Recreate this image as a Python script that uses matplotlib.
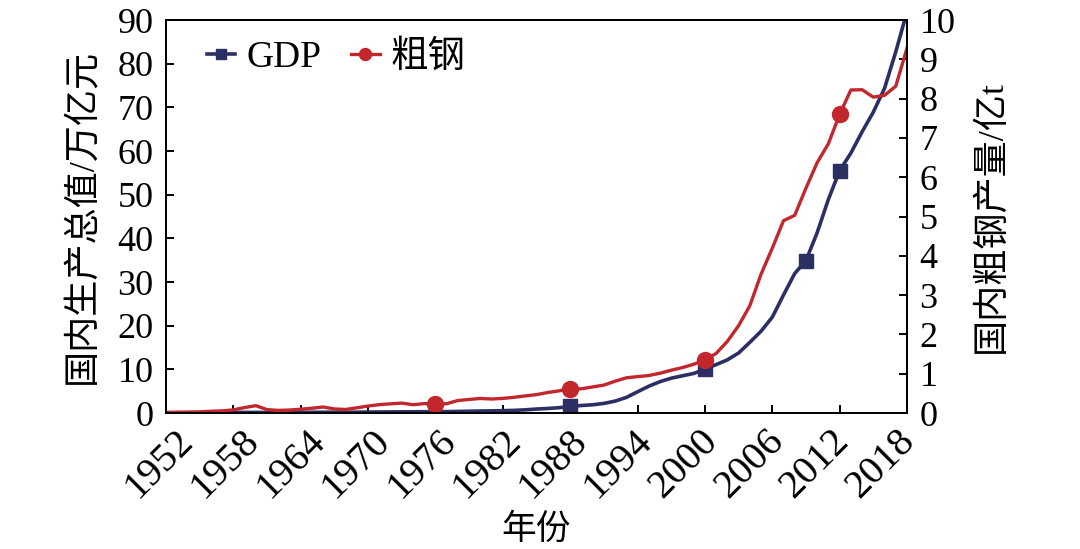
import numpy as np
import matplotlib
matplotlib.use("Agg")
import matplotlib.pyplot as plt
from matplotlib.transforms import ScaledTranslation

plt.rcParams['font.family'] = ['Liberation Serif', 'Noto Sans CJK SC']
plt.rcParams['axes.unicode_minus'] = False

# --- DATOS ---
years = list(range(1952, 2019))

# PIB (万亿元)
gdp = [0.068, 0.082, 0.086, 0.091, 0.103, 0.107, 0.131, 0.144, 0.146, 0.122,
       0.115, 0.123, 0.145, 0.172, 0.187, 0.177, 0.172, 0.194, 0.225, 0.243,
       0.252, 0.272, 0.279, 0.300, 0.294, 0.320, 0.368, 0.410, 0.459, 0.494,
       0.537, 0.602, 0.728, 0.910, 1.038, 1.218, 1.518, 1.718, 1.887, 2.201,
       2.720, 3.567, 4.864, 6.134, 7.181, 7.972, 8.520, 9.056, 10.03, 11.09,
       12.17, 13.74, 16.18, 18.73, 21.94, 27.02, 31.95, 34.91, 41.30, 48.93,
       55.5, 59.52, 64.40, 68.91, 74.36, 82.71, 91.9]

# Acero bruto (亿t)
steel = [0.014, 0.018, 0.022, 0.029, 0.045, 0.054, 0.080, 0.139, 0.187, 0.087,
         0.067, 0.076, 0.096, 0.122, 0.153, 0.103, 0.090, 0.133, 0.178, 0.213,
         0.234, 0.252, 0.211, 0.239, 0.230, 0.237, 0.318, 0.345, 0.371, 0.356,
         0.372, 0.400, 0.435, 0.468, 0.522, 0.563, 0.620, 0.616, 0.664, 0.710,
         0.809, 0.896, 0.926, 0.954, 1.012, 1.089, 1.156, 1.240, 1.350, 1.516,
         1.823, 2.223, 2.728, 3.532, 4.192, 4.893, 5.031, 5.722, 6.372, 6.853,
         7.60, 8.220, 8.227, 8.038, 8.084, 8.317, 9.283]

gdp_mark_years = [1988, 2000, 2009, 2012]
steel_mark_years = [1976, 1988, 2000, 2012]
xticks = list(range(1952, 2019, 6))

C_GDP = '#2b2f63'
C_STEEL = '#c1272d'

fig = plt.figure(figsize=(10.8, 5.49), dpi=100)
ax = fig.add_axes([0.1537, 0.2477, 0.6861, 0.7158])
ax2 = ax.twinx()

l1, = ax.plot(years, gdp, color=C_GDP, lw=2.6, marker='s', ms=10,
              markevery=[years.index(y) for y in gdp_mark_years], label='GDP')
l2, = ax2.plot(years, steel, color=C_STEEL, lw=2.4, marker='o', ms=11.5,
               markevery=[years.index(y) for y in steel_mark_years], label='粗钢')

ax.set_xlim(1952, 2018)
ax.set_ylim(0, 90)
ax2.set_ylim(0, 10)
ax.set_xticks(xticks)
ax.set_yticks(range(0, 91, 10))
ax2.set_yticks(range(0, 11))

for a in (ax, ax2):
    for s in a.spines.values():
        s.set_linewidth(1.4)
ax.tick_params(axis='both', direction='in', length=6, width=1.4, labelsize=26)
ax.tick_params(axis='y', pad=9)
ax.tick_params(axis='x', pad=7, labelsize=29)
ax2.tick_params(axis='y', direction='in', length=6, width=1.4, labelsize=26, pad=9)

# etiquetas del eje x giradas, con un pequeño desplazamiento como en el original
labs = ax.get_xticklabels()
for i, lab in enumerate(labs):
    dx = 9 - 20 * i / (len(labs) - 1)
    lab.set_rotation(45)
    lab.set_ha('right')
    lab.set_va('top')
    lab.set_rotation_mode('anchor')
    lab.set_transform(lab.get_transform() + ScaledTranslation(dx / 100, 0, fig.dpi_scale_trans))

ax.set_ylabel('国内生产总值/万亿元', fontsize=26, labelpad=13)
ax2.set_ylabel('国内粗钢产量/亿t', fontsize=26, labelpad=14)
ax.set_xlabel('年份', fontsize=25, labelpad=6)

ax2.legend([l1, l2], ['GDP', '粗钢'], loc='upper left', ncol=2, frameon=False,
           fontsize=27, handlelength=0.75, handletextpad=0.3, columnspacing=0.8,
           markerscale=0.75, bbox_to_anchor=(0.025, 1.005), borderaxespad=0.2)

plt.savefig('out.png', dpi=100)
